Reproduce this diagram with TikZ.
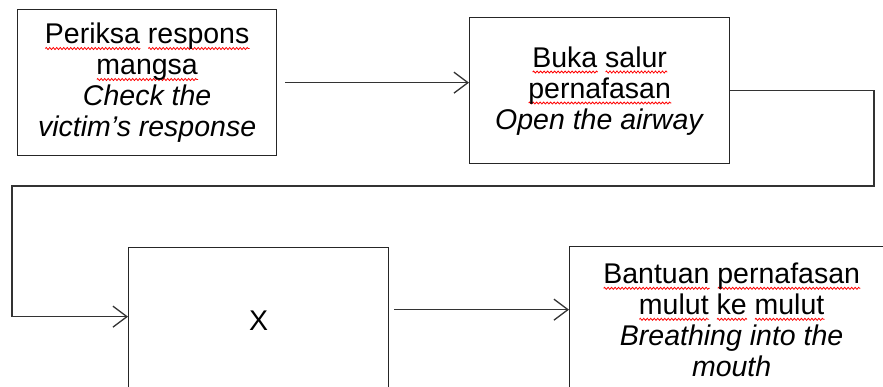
\documentclass[tikz,border=0pt]{standalone}
\usepackage{fontspec}
\setmainfont{Liberation Sans}
\usetikzlibrary{arrows.meta, decorations.pathmorphing}

% red spell-check wave under a word
\newcommand\spellmark[1]{\setbox0\hbox{#1}\leavevmode\rlap{\tikz[baseline=5pt, x=1pt, y=1pt]
    \draw[red, line width=0.8pt, decorate, decoration={zigzag, segment length=3.5pt, amplitude=1pt}]
    (0,0) -- (\the\wd0,0);}\box0\relax}

\begin{document}
\begin{tikzpicture}[x=1pt, y=-1pt,
    box/.style={draw=black!85, line width=1.3pt, rectangle, inner sep=0pt,
        anchor=north west, minimum height=146pt, align=center,
        font=\fontsize{28.5}{31}\selectfont},
    arr/.style={draw=black!80, line width=1.3pt,
        -{Straight Barb[length=14pt, width=21pt, line width=1.3pt]}}]
    \useasboundingbox (0,0) rectangle (883,387);
    \clip (0,0) rectangle (883,387);

    % Top row
    \node[box, minimum width=259pt] (check) at (17,9)
        {\spellmark{Periksa} \spellmark{respons}\\ \spellmark{mangsa}\\ \textit{Check the}\\ \textit{victim’s response}};
    \node[box, minimum width=260pt] (airway) at (469,17)
        {\spellmark{Buka} \spellmark{salur}\\ \spellmark{pernafasan}\\ \textit{Open the airway}};

    % Bottom row
    \node[box, minimum width=260pt] (xbox) at (128,247) {X};
    \node[box, minimum width=324pt] (breath) at (569,246)
        {\spellmark{Bantuan} \spellmark{pernafasan}\\ \spellmark{mulut} \spellmark{ke} \spellmark{mulut}\\ \textit{Breathing into the}\\ \textit{mouth}};

    % Turning points of the return line
    \coordinate (turnR) at (874,186);
    \coordinate (turnL) at (12,186);

    % Edges
    \draw[arr] ([xshift=8pt]check.east) -- (check.east -| airway.west);
    \draw[arr] (airway.east) -| (turnR) -- (turnL) |- ([yshift=4pt]xbox.west);
    \draw[arr] ([shift={(5pt,11pt)}]xbox.east) -- ([yshift=11pt]xbox.east -| breath.west);
\end{tikzpicture}
\end{document}
